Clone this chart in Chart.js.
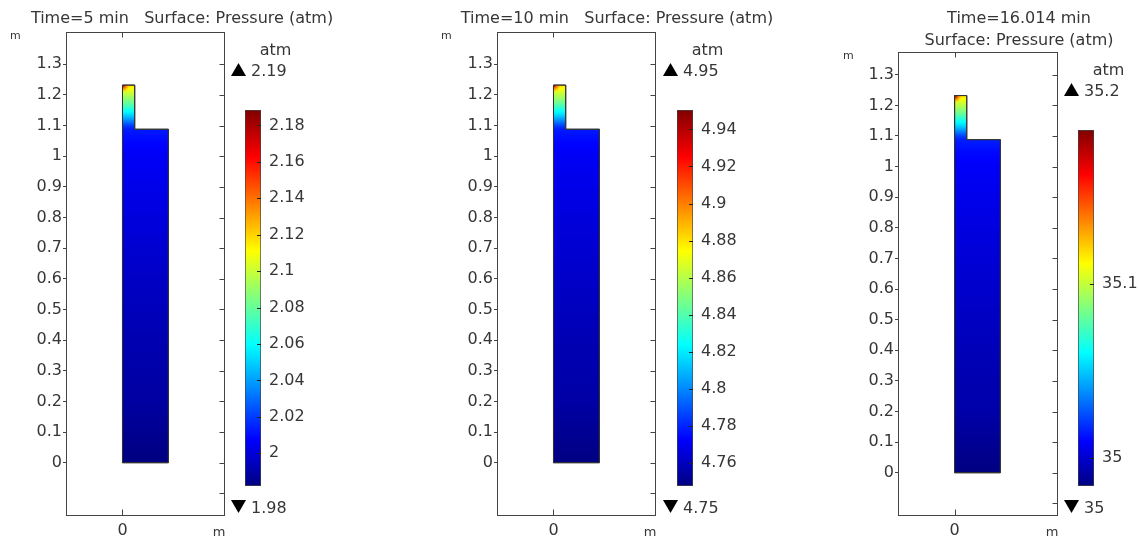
<!DOCTYPE html>
<html>
<head>
<meta charset="utf-8">
<script src="https://cdn.jsdelivr.net/npm/chart.js@4.4.1/dist/chart.umd.min.js"></script>
<style>
  html, body { margin: 0; padding: 0; background: #ffffff; }
  #wrap { position: relative; width: 1139px; height: 538px; overflow: hidden; background: #ffffff; }
  #wrap canvas { position: absolute; top: 0; }
</style>
</head>
<body>
<div id="wrap"></div>
<script>
// Outline of the vessel cross-section (m): lower chamber plus the narrow riser on the left
const domainX = [0, 0.15, 0.15, 0.04, 0.04, 0, 0];
const domainY = [0, 0, 1.088, 1.088, 1.232, 1.232, 0];

// Heights (m) where the pressure field is sampled along the column
const heights = [0, 0.2, 0.4, 0.6, 0.8, 1.0, 1.05, 1.088, 1.101, 1.117, 1.133, 1.150, 1.166, 1.182, 1.199, 1.215, 1.232];

// Pressure (atm) at those heights for each time step
const pressure5  = [1.982, 1.989, 1.992, 1.996, 2.001, 2.006, 2.009, 2.013, 2.021, 2.036, 2.050, 2.063, 2.075, 2.085, 2.096, 2.106, 2.118];
const pressure10 = [4.748, 4.755, 4.758, 4.762, 4.766, 4.771, 4.774, 4.778, 4.787, 4.801, 4.815, 4.827, 4.839, 4.850, 4.860, 4.870, 4.882];
const pressure16 = [34.984, 34.992, 34.995, 34.999, 35.003, 35.008, 35.011, 35.015, 35.023, 35.038, 35.052, 35.064, 35.076, 35.087, 35.097, 35.107, 35.119];

// Peak / minimum pressure for each time step (atm); the peak sits in the riser's top-left corner
const pressureMax = [2.19, 4.95, 35.2];
const pressureMin = [1.98, 4.75, 35];

// Axis ticks
const yTicks = [-0.1, 0, 0.1, 0.2, 0.3, 0.4, 0.5, 0.6, 0.7, 0.8, 0.9, 1, 1.1, 1.2, 1.3];
const xTicks = [0];
const cbTicks5  = [2, 2.02, 2.04, 2.06, 2.08, 2.1, 2.12, 2.14, 2.16, 2.18];
const cbTicks10 = [4.76, 4.78, 4.8, 4.82, 4.84, 4.86, 4.88, 4.9, 4.92, 4.94];
const cbTicks16 = [35, 35.1];

// Titles
const titles = [
  ['Time=5 min   Surface: Pressure (atm)'],
  ['Time=10 min   Surface: Pressure (atm)'],
  ['Time=16.014 min', 'Surface: Pressure (atm)']
];

const FONT = "'DejaVu Sans', 'Liberation Sans', sans-serif";
const FS = 16;
const TEXT = '#363636';
const LINE = '#444444';
const HEIGHT = 538;

Chart.defaults.font.family = FONT;
Chart.defaults.font.size = FS;
Chart.defaults.color = TEXT;

// Classic "jet" colour map
function jetRGB(t) {
  t = Math.max(0, Math.min(1, t));
  const c = v => Math.round(255 * Math.max(0, Math.min(1, v)));
  return [c(1.5 - Math.abs(4 * t - 3)), c(1.5 - Math.abs(4 * t - 2)), c(1.5 - Math.abs(4 * t - 1))];
}
function jet(t, a) {
  const [r, g, b] = jetRGB(t);
  return a === undefined ? `rgb(${r},${g},${b})` : `rgba(${r},${g},${b},${a})`;
}
function fmt(v) { return String(parseFloat(Number(v).toFixed(3))); }

const wrap = document.getElementById('wrap');
function makeCanvas(left, width) {
  const cv = document.createElement('canvas');
  cv.width = width; cv.height = HEIGHT;
  cv.style.left = left + 'px';
  cv.style.width = width + 'px';
  cv.style.height = HEIGHT + 'px';
  wrap.appendChild(cv);
  return cv;
}
function drawText(ctx, s, x, y, align, size) {
  ctx.font = size + 'px ' + FONT;
  ctx.textAlign = align;
  ctx.textBaseline = 'alphabetic';
  ctx.fillStyle = TEXT;
  ctx.fillText(s, x, y);
}
function seg(ctx, x1, y1, x2, y2) {
  ctx.beginPath(); ctx.moveTo(x1, y1); ctx.lineTo(x2, y2); ctx.stroke();
}

// Per-panel layout (page pixels) and colour range
const panels = [
  { canvasLeft: 0,   canvasWidth: 380, plot: { left: 67,  right: 224,  top: 33, bottom: 515 },
    xRange: [-0.1814, 0.3318], yRange: [-0.1706, 1.402],
    bar: { left: 245, right: 261, top: 110, bottom: 486 }, cbRange: [1.982, 2.1885],
    titleX: 182, titleY: [23], yUnit: [10, 39], xUnit: [219, 536],
    pressure: pressure5, cbTicks: cbTicks5, title: titles[0], pMax: pressureMax[0], pMin: pressureMin[0] },
  { canvasLeft: 430, canvasWidth: 380, plot: { left: 498, right: 655, top: 33, bottom: 515 },
    xRange: [-0.1814, 0.3318], yRange: [-0.1706, 1.402],
    bar: { left: 677, right: 693, top: 110, bottom: 486 }, cbRange: [4.7475, 4.9505],
    titleX: 617, titleY: [23], yUnit: [441, 39], xUnit: [650, 536],
    pressure: pressure10, cbTicks: cbTicks10, title: titles[1], pMax: pressureMax[1], pMin: pressureMin[1] },
  { canvasLeft: 810, canvasWidth: 329, plot: { left: 899, right: 1057, top: 53, bottom: 515 },
    xRange: [-0.182, 0.3356], yRange: [-0.138, 1.371],
    bar: { left: 1078, right: 1094, top: 130, bottom: 486 }, cbRange: [34.9837, 35.1883],
    titleX: 1019, titleY: [23, 45], yUnit: [843, 59], xUnit: [1052, 536],
    pressure: pressure16, cbTicks: cbTicks16, title: titles[2], pMax: pressureMax[2], pMin: pressureMin[2] }
];

// Vertical gradient of the pressure field, placed through the y scale
function fieldGradient(chart, p) {
  const area = chart.chartArea;
  if (!area) return null;
  const y = chart.scales.y;
  const [lo, hi] = p.cbRange;
  const y0 = y.getPixelForValue(heights[0]);
  const y1 = y.getPixelForValue(heights[heights.length - 1]);
  const g = chart.ctx.createLinearGradient(0, y0, 0, y1);
  const n = heights.length;
  for (let i = 0; i < n; i++) {
    const steps = i < n - 1 ? 4 : 1;
    for (let k = 0; k < steps; k++) {
      const f = k / 4;
      const h = i < n - 1 ? heights[i] + f * (heights[i + 1] - heights[i]) : heights[i];
      const v = i < n - 1 ? p.pressure[i] + f * (p.pressure[i + 1] - p.pressure[i]) : p.pressure[i];
      const off = (y.getPixelForValue(h) - y0) / (y1 - y0);
      g.addColorStop(Math.max(0, Math.min(1, off)), jet((v - lo) / (hi - lo)));
    }
  }
  return g;
}

function plotPlugin(p) {
  const L = p.canvasLeft;
  return {
    id: 'plotFrame' + L,
    afterDatasetsDraw(chart) {
      // hot spot in the riser's top-left corner
      const { ctx, scales: { x, y } } = chart;
      const [lo, hi] = p.cbRange;
      const cx = x.getPixelForValue(domainX[0]);
      const cy = y.getPixelForValue(domainY[4]);
      const rx = x.getPixelForValue(domainX[3]);
      const by = y.getPixelForValue(domainY[3]);
      const top = p.pressure[p.pressure.length - 1];
      ctx.save();
      ctx.beginPath();
      ctx.rect(cx, cy, rx - cx, by - cy);
      ctx.clip();
      const r = 8;
      const g = ctx.createRadialGradient(cx, cy, 0, cx, cy, r);
      for (let k = 0; k <= 4; k++) {
        const v = p.pMax + (top - p.pMax) * k / 4;
        g.addColorStop(k / 4, jet((v - lo) / (hi - lo), 1 - k / 4));
      }
      ctx.fillStyle = g;
      ctx.fillRect(cx, cy, r, r);
      ctx.restore();
      // redraw the outline over the overlay
      const meta = chart.getDatasetMeta(0);
      ctx.save();
      ctx.strokeStyle = '#333';
      ctx.lineWidth = 1;
      ctx.beginPath();
      meta.data.forEach((pt, i) => i ? ctx.lineTo(pt.x, pt.y) : ctx.moveTo(pt.x, pt.y));
      ctx.stroke();
      ctx.restore();
    },
    afterDraw(chart) {
      const { ctx, chartArea: a, scales: { x, y } } = chart;
      ctx.save();
      ctx.strokeStyle = LINE;
      ctx.lineWidth = 1;
      const l = Math.round(a.left) - 0.5, r = Math.round(a.right) + 0.5;
      const t = Math.round(a.top) - 0.5, b = Math.round(a.bottom) + 0.5;
      ctx.strokeRect(l, t, r - l, b - t);
      y.ticks.forEach(tk => {
        const py = Math.round(y.getPixelForValue(tk.value)) + 0.5;
        seg(ctx, r - 5, py, r, py);
      });
      x.ticks.forEach(tk => {
        const px = Math.round(x.getPixelForValue(tk.value)) + 0.5;
        seg(ctx, px, t, px, t + 5);
        seg(ctx, px, b - 6, px, b);
      });
      ctx.restore();
      p.title.forEach((s, i) => drawText(ctx, s, p.titleX - L, p.titleY[i], 'center', FS));
      drawText(ctx, 'm', p.yUnit[0] - L, p.yUnit[1], 'left', 11);
      drawText(ctx, 'm', p.xUnit[0] - L, p.xUnit[1], 'center', 13);
    }
  };
}

function plotChart(p) {
  const cv = makeCanvas(p.canvasLeft, p.canvasWidth);
  const a = p.plot, L = p.canvasLeft;
  return new Chart(cv, {
    type: 'line',
    data: {
      datasets: [{
        data: domainX.map((v, i) => ({ x: v, y: domainY[i] })),
        fill: 'shape',
        backgroundColor: c => fieldGradient(c.chart, p),
        borderColor: '#333',
        borderWidth: 1,
        pointRadius: 0,
        tension: 0,
        borderJoinStyle: 'miter'
      }]
    },
    options: {
      responsive: false,
      animation: false,
      events: [],
      layout: { padding: { left: 0, top: a.top, right: L + p.canvasWidth - a.right, bottom: 0 } },
      plugins: { legend: { display: false }, tooltip: { enabled: false } },
      scales: {
        x: {
          type: 'linear', min: p.xRange[0], max: p.xRange[1],
          afterBuildTicks: s => { s.ticks = xTicks.map(v => ({ value: v })); },
          afterFit: s => { s.height = HEIGHT - a.bottom; },
          grid: { display: false, drawTicks: false },
          border: { display: false },
          ticks: { padding: 6, maxRotation: 0, autoSkip: false, callback: v => fmt(v) }
        },
        y: {
          type: 'linear', min: p.yRange[0], max: p.yRange[1],
          afterBuildTicks: s => { s.ticks = yTicks.map(v => ({ value: v })); },
          afterFit: s => { s.width = a.left - L; },
          grid: { drawOnChartArea: false, tickLength: 4, color: c => (c.tick && c.tick.value < 0) ? 'rgba(0,0,0,0)' : LINE },
          border: { display: false },
          ticks: { padding: 1, autoSkip: false, callback: v => v < 0 ? '' : fmt(v) }
        }
      }
    },
    plugins: [plotPlugin(p)]
  });
}

function barPlugin(p) {
  const L = p.canvasLeft;
  return {
    id: 'colorBar' + L,
    afterDraw(chart) {
      const { ctx, chartArea: a, scales: { y } } = chart;
      ctx.save();
      ctx.strokeStyle = '#222';
      ctx.lineWidth = 1;
      y.ticks.forEach(tk => {
        const py = Math.round(y.getPixelForValue(tk.value)) + 0.5;
        seg(ctx, a.right - 4, py, a.right, py);
      });
      ctx.restore();
      const bl = p.bar.left - L;
      drawText(ctx, 'atm', bl + 30.5, p.bar.top - 55, 'center', FS);
      // max marker
      ctx.fillStyle = '#000';
      const ty = p.bar.top - 34;
      ctx.beginPath(); ctx.moveTo(bl - 14, ty); ctx.lineTo(bl + 1, ty); ctx.lineTo(bl - 6.5, ty - 13); ctx.closePath(); ctx.fill();
      drawText(ctx, fmt(p.pMax), bl + 6, ty, 'left', FS);
      // min marker
      const by = 513;
      ctx.fillStyle = '#000';
      ctx.beginPath(); ctx.moveTo(bl - 14, by - 13); ctx.lineTo(bl + 1, by - 13); ctx.lineTo(bl - 6.5, by); ctx.closePath(); ctx.fill();
      drawText(ctx, fmt(p.pMin), bl + 6, by, 'left', FS);
    }
  };
}

function barChart(p) {
  const cv = makeCanvas(p.canvasLeft, p.canvasWidth);
  const L = p.canvasLeft, AXIS_W = 45;
  const [lo, hi] = p.cbRange;
  return new Chart(cv, {
    type: 'bar',
    data: {
      labels: ['p'],
      datasets: [{
        data: [[lo, hi]],
        backgroundColor: c => {
          const ch = c.chart;
          if (!ch.chartArea) return null;
          const ys = ch.scales.y;
          const g = ch.ctx.createLinearGradient(0, ys.getPixelForValue(lo), 0, ys.getPixelForValue(hi));
          [0, 1 / 8, 3 / 8, 5 / 8, 7 / 8, 1].forEach(t => g.addColorStop(t, jet(t)));
          return g;
        },
        borderColor: '#444',
        borderWidth: 1,
        borderSkipped: false,
        barPercentage: 1,
        categoryPercentage: 1
      }]
    },
    options: {
      responsive: false,
      animation: false,
      events: [],
      layout: { padding: { left: p.bar.left - L, top: p.bar.top, bottom: HEIGHT - p.bar.bottom, right: Math.max(0, L + p.canvasWidth - p.bar.right - AXIS_W) } },
      plugins: { legend: { display: false }, tooltip: { enabled: false } },
      scales: {
        x: { display: false },
        y: {
          position: 'right', min: lo, max: hi,
          afterBuildTicks: s => { s.ticks = p.cbTicks.map(v => ({ value: v })); },
          afterFit: s => { s.width = AXIS_W; },
          grid: { display: false, drawTicks: false },
          border: { display: false },
          ticks: { padding: 8, autoSkip: false, callback: v => fmt(v) }
        }
      }
    },
    plugins: [barPlugin(p)]
  });
}

panels.forEach(p => { plotChart(p); barChart(p); });
</script>
</body>
</html>
